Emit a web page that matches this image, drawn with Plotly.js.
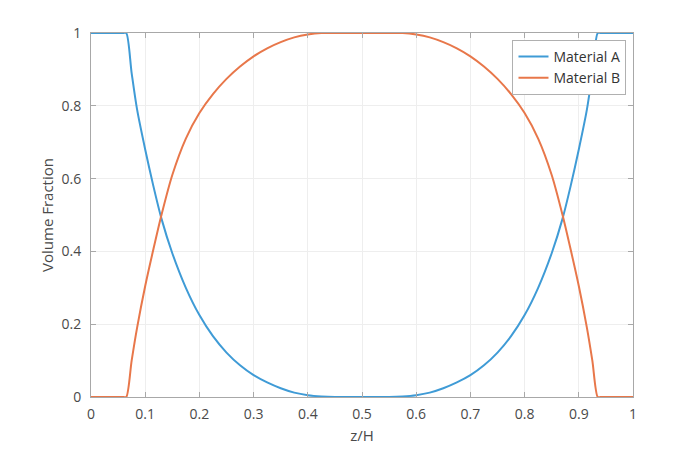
<!DOCTYPE html>
<html>
<head>
<meta charset="utf-8">
<script src="https://cdn.plot.ly/plotly-3.0.1.min.js"></script>
<style>
  html, body { margin: 0; padding: 0; background: #fff; }
  #chart { width: 700px; height: 450px; }
</style>
</head>
<body>
<div id="chart"></div>
<script>
const zH = [0, 0.06, 0.065, 0.075, 0.085, 0.1, 0.115, 0.13, 0.15, 0.175, 0.2,
            0.225, 0.25, 0.275, 0.3, 0.325, 0.35, 0.375, 0.4, 0.425, 0.45,
            0.5,
            0.55, 0.575, 0.6, 0.625, 0.65, 0.675, 0.7, 0.725, 0.75, 0.775,
            0.8, 0.825, 0.85, 0.87, 0.885, 0.9, 0.915, 0.925, 0.935, 0.94, 1];

// Volume fraction of material A
const materialA = [1, 1, 1, 0.89, 0.79, 0.68, 0.58, 0.49, 0.395, 0.30, 0.225,
                   0.167, 0.122, 0.087, 0.06, 0.04, 0.024, 0.012, 0.005, 0.0015, 0,
                   0,
                   0, 0.0015, 0.005, 0.012, 0.024, 0.04, 0.06, 0.087, 0.122, 0.167,
                   0.225, 0.30, 0.395, 0.49, 0.58, 0.68, 0.79, 0.89, 1, 1, 1];

// Volume fraction of material B
const materialB = [0, 0, 0, 0.1, 0.19, 0.305, 0.405, 0.5, 0.61, 0.71, 0.78,
                   0.832, 0.874, 0.908, 0.936, 0.958, 0.975, 0.988, 0.996, 1, 1,
                   1,
                   1, 1, 0.996, 0.988, 0.975, 0.958, 0.936, 0.908, 0.874, 0.832,
                   0.78, 0.71, 0.61, 0.5, 0.405, 0.305, 0.19, 0.1, 0, 0, 0];

const xTicks = [0, 0.1, 0.2, 0.3, 0.4, 0.5, 0.6, 0.7, 0.8, 0.9, 1];
const yTicks = [0, 0.2, 0.4, 0.6, 0.8, 1];

const font = 'Open Sans, Noto Sans, sans-serif';
const textColor = '#4a4a4a';

const traces = [
    {
        x: zH, y: materialA,
        type: 'scatter', mode: 'lines',
        name: 'Material A',
        line: {color: '#3f9bd6', width: 2, shape: 'spline', smoothing: 0.8}
    },
    {
        x: zH, y: materialB,
        type: 'scatter', mode: 'lines',
        name: 'Material B',
        line: {color: '#e8774a', width: 2, shape: 'spline', smoothing: 0.8}
    }
];

const axisStyle = {
    showgrid: true,
    gridcolor: '#eeeeee',
    gridwidth: 1,
    zeroline: false,
    showline: true,
    linecolor: '#a8a8a8',
    linewidth: 1,
    mirror: 'allticks',
    ticks: 'inside',
    ticklen: 5,
    tickcolor: '#a8a8a8',
    tickfont: {family: font, size: 14, color: textColor}
};

const layout = {
    width: 700,
    height: 450,
    margin: {l: 91, r: 67, t: 33, b: 53},
    paper_bgcolor: '#fff',
    plot_bgcolor: '#fff',
    showlegend: true,
    legend: {
        x: 0.988, y: 0.981,
        xanchor: 'right', yanchor: 'top',
        bgcolor: '#fff',
        bordercolor: '#b0b0b0',
        borderwidth: 1,
        font: {family: font, size: 14, color: '#333'},
        itemwidth: 30,
        tracegroupgap: 0
    },
    xaxis: Object.assign({}, axisStyle, {
        range: [0, 1],
        tickvals: xTicks,
        ticktext: xTicks.map(String),
        ticklabelstandoff: 4,
        title: {text: 'z/H', font: {family: font, size: 15, color: textColor}, standoff: 8}
    }),
    yaxis: Object.assign({}, axisStyle, {
        range: [0, 1],
        tickvals: yTicks,
        ticktext: yTicks.map(String),
        ticklabelstandoff: 6,
        title: {text: 'Volume Fraction', font: {family: font, size: 15, color: textColor}, standoff: 4}
    })
};

Plotly.newPlot('chart', traces, layout, {displayModeBar: false, staticPlot: true});
</script>
</body>
</html>
